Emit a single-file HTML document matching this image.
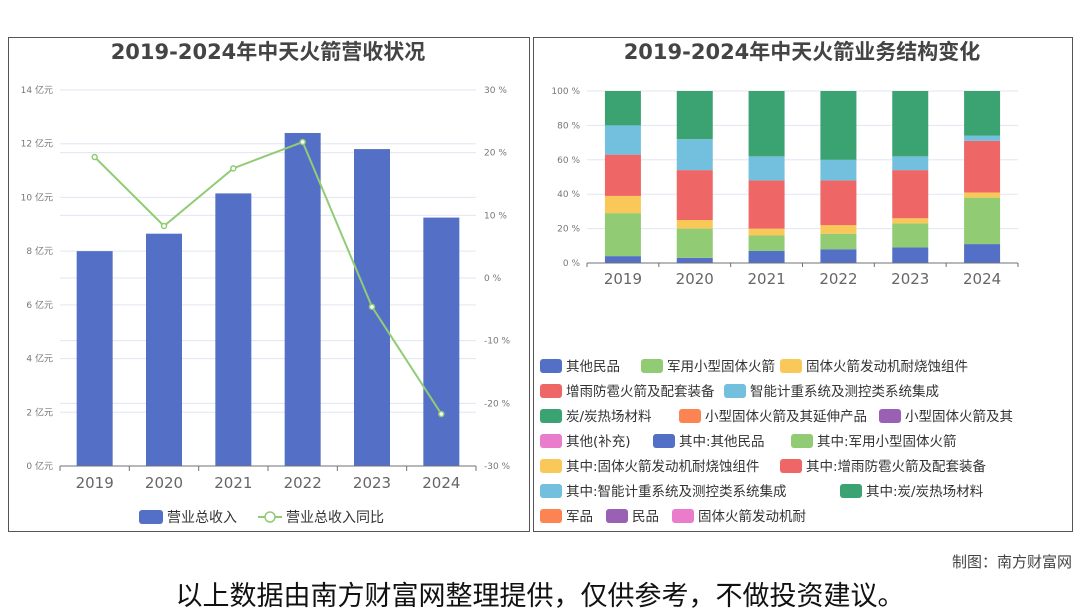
<!DOCTYPE html>
<html><head><meta charset="utf-8"><style>
body{margin:0;width:1080px;height:614px;background:#fff;font-family:"DejaVu Sans","Noto Sans CJK SC",sans-serif;overflow:hidden;position:relative}
.panel{position:absolute;border:1px solid #555;background:#fff}
</style></head><body>
<div class="panel" style="left:8px;top:37px;width:520px;height:493px"></div>
<div class="panel" style="left:533px;top:37px;width:538px;height:493px"></div>
<svg id="s" width="1080" height="614" style="position:absolute;left:0;top:0">
<text x="268" y="59" text-anchor="middle" font-size="21" font-weight="bold" fill="#444">2019-2024年中天火箭营收状况</text>
<text x="802" y="59" text-anchor="middle" font-size="21" font-weight="bold" fill="#444">2019-2024年中天火箭业务结构变化</text>
<text x="1072" y="567" text-anchor="end" font-size="15" fill="#444">制图：南方财富网</text>
<text x="540" y="605" text-anchor="middle" font-size="27" fill="#111">以上数据由南方财富网整理提供，仅供参考，不做投资建议。</text>
</svg>
<script>
const years=['2019','2020','2021','2022','2023','2024'];
const revenue=[8.0,8.65,10.15,12.4,11.8,9.25];
const growth=[19.3,8.3,17.5,21.7,-4.6,-21.7];
const leftTicks=[0,2,4,6,8,10,12,14];
const rightTicks=[-30,-20,-10,0,10,20,30];
const sOther=[4,3,7,8,9,11];
const sMilitary=[25,17,9,9,14,27];
const sEngine=[10,5,4,5,3,3];
const sRain=[24,29,28,26,28,30];
const sSmart=[17,18,14,12,8,3];
const sCarbon=[20,28,38,40,38,26];
const pctTicks=[0,20,40,60,80,100];
const svg=document.getElementById('s');const NS='http://www.w3.org/2000/svg';
function el(t,a,txt){const e=document.createElementNS(NS,t);for(const k in a)e.setAttribute(k,a[k]);if(txt!==undefined)e.textContent=txt;svg.appendChild(e);return e;}
const L0=60,L1=476,T=90,B=466,bw=(L1-L0)/6;
const yL=v=>B-v/14*(B-T), yR=v=>B-(v+30)/60*(B-T), xc=i=>L0+bw*(i+0.5);
rightTicks.forEach(v=>{const g=el('line',{x1:L0,x2:L1,y1:yR(v),y2:yR(v),stroke:'#e3e6f3'});
const t=el('text',{x:484,y:yR(v)+3,'font-size':9,fill:'#777'},v+' %');});
leftTicks.forEach(v=>{const g=el('line',{x1:L0,x2:L1,y1:yL(v),y2:yL(v),stroke:'#e3e6f3'});
const t=el('text',{x:53,y:yL(v)+3,'font-size':9,fill:'#777','text-anchor':'end'},v+' 亿元');});
revenue.forEach((v,i)=>{const r=el('rect',{x:xc(i)-18,y:yL(v),width:36,height:B-yL(v),fill:'#5470c6'});});
el('line',{x1:L0,x2:L1,y1:B,y2:B,stroke:'#6e7079'});
years.forEach((y,i)=>{el('line',{x1:L0+bw*i,x2:L0+bw*i,y1:B,y2:B+5,stroke:'#6e7079'});const t=el('text',{x:xc(i),y:488,'font-size':15,fill:'#666','text-anchor':'middle'},y);});
el('line',{x1:L1,x2:L1,y1:B,y2:B+5,stroke:'#6e7079'});
const pl=el('polyline',{points:growth.map((v,i)=>xc(i)+','+yR(v)).join(' '),fill:'none',stroke:'#91cc75','stroke-width':2});

growth.forEach((v,i)=>{const c=el('circle',{cx:xc(i),cy:yR(v),r:2.5,fill:'#fff',stroke:'#91cc75','stroke-width':1.5});});
let lg=el('rect',{x:139,y:510,width:24,height:14,rx:3,fill:'#5470c6'});
el('text',{x:167,y:522,'font-size':14,fill:'#333'},'营业总收入');
el('line',{x1:258,x2:282,y1:517,y2:517,stroke:'#91cc75','stroke-width':2});el('circle',{cx:270,cy:517,r:5,fill:'#fff',stroke:'#91cc75','stroke-width':1.5});
el('text',{x:286,y:522,'font-size':14,fill:'#333'},'营业总收入同比');
const R0=587,R1=1018,RT=91,RB=263,rbw=(R1-R0)/6;
const yP=v=>RB-v/100*(RB-RT), xr=i=>R0+rbw*(i+0.5);
pctTicks.forEach(v=>{el('line',{x1:R0,x2:R1,y1:yP(v),y2:yP(v),stroke:'#e3e6f3'});const t=el('text',{x:580,y:yP(v)+3,'font-size':9,fill:'#777','text-anchor':'end'},v+' %');});
const series=[[sOther,'#5470c6'],[sMilitary,'#91cc75'],[sEngine,'#fac858'],[sRain,'#ee6666'],[sSmart,'#73c0de'],[sCarbon,'#3ba272']];
years.forEach((y,i)=>{let acc=0;series.forEach(([arr,c])=>{const v=arr[i];const r=el('rect',{x:xr(i)-18,y:yP(acc+v),width:36,height:yP(acc)-yP(acc+v),fill:c});acc+=v;});
const t=el('text',{x:xr(i),y:284,'font-size':15,fill:'#666','text-anchor':'middle'},y);
el('line',{x1:R0+rbw*i,x2:R0+rbw*i,y1:RB,y2:RB+4,stroke:'#6e7079'});});
el('line',{x1:R0,x2:R1,y1:RB,y2:RB,stroke:'#6e7079'});el('line',{x1:R1,x2:R1,y1:RB,y2:RB+4,stroke:'#6e7079'});
const legend=[[540,366,'#5470c6','其他民品'],[641,366,'#91cc75','军用小型固体火箭'],[780,366,'#fac858','固体火箭发动机耐烧蚀组件'],
[540,391,'#ee6666','增雨防雹火箭及配套装备'],[724,391,'#73c0de','智能计重系统及测控类系统集成'],
[540,416,'#3ba272','炭/炭热场材料'],[679,416,'#fc8452','小型固体火箭及其延伸产品'],[879,416,'#9a60b4','小型固体火箭及其'],
[540,441,'#ea7ccc','其他(补充)'],[653,441,'#5470c6','其中:其他民品'],[791,441,'#91cc75','其中:军用小型固体火箭'],
[540,466,'#fac858','其中:固体火箭发动机耐烧蚀组件'],[780,466,'#ee6666','其中:增雨防雹火箭及配套装备'],
[540,491,'#73c0de','其中:智能计重系统及测控类系统集成'],[840,491,'#3ba272','其中:炭/炭热场材料'],
[540,516,'#fc8452','军品'],[606,516,'#9a60b4','民品'],[672,516,'#ea7ccc','固体火箭发动机耐']];
legend.forEach(([x,y,c,s])=>{const r=el('rect',{x:x,y:y-7,width:22,height:14,rx:3,fill:c});
el('text',{x:x+26,y:y+5,'font-size':13.5,fill:'#333'},s);});
</script>
</body></html>
